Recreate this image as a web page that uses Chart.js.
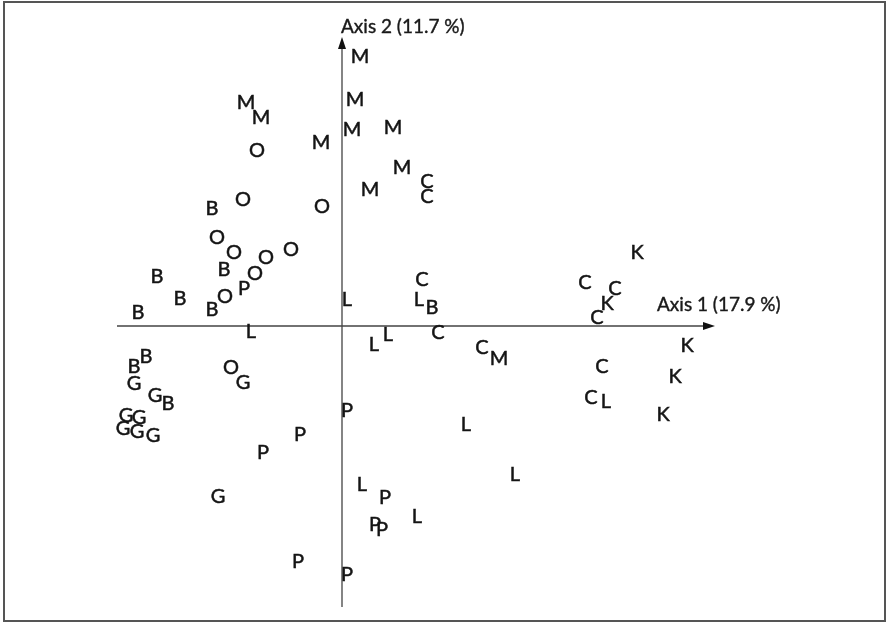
<!DOCTYPE html>
<html>
<head>
<meta charset="utf-8">
<script src="https://cdn.jsdelivr.net/npm/chart.js@4"></script>
<style>
  html, body { margin: 0; padding: 0; background: #fff; }
  #wrap { width: 888px; height: 623px; position: relative; }
</style>
</head>
<body>
<div id="wrap"><canvas id="chart"></canvas></div>
<script>
// group letters used as point markers
const categories = ['B', 'C', 'G', 'K', 'L', 'M', 'O', 'P'];

// [axis1, axis2] scores for each group
const pointsB = [[-1.30, 1.17], [-1.85, 0.49], [-1.18, 0.56], [-1.62, 0.27], [-1.30, 0.16], [-2.04, 0.13], [-1.96, -0.31], [-2.08, -0.41], [-1.74, -0.78], [0.90, 0.18]];
const pointsC = [[0.85, 1.44], [0.85, 1.29], [0.80, 0.46], [0.96, -0.07], [1.40, -0.22], [2.43, 0.43], [2.73, 0.37], [2.55, 0.08], [2.60, -0.41], [2.49, -0.72]];
const pointsG = [[-2.08, -0.58], [-0.99, -0.57], [-1.87, -0.70], [-2.16, -0.90], [-2.03, -0.92], [-2.19, -1.03], [-2.05, -1.06], [-1.89, -1.10], [-1.24, -1.71]];
const pointsK = [[2.95, 0.73], [2.65, 0.22], [3.45, -0.20], [3.33, -0.51], [3.21, -0.89]];
const pointsL = [[-0.91, -0.06], [0.05, 0.26], [0.46, -0.09], [0.32, -0.19], [0.77, 0.26], [2.64, -0.76], [1.24, -0.99], [1.73, -1.49], [0.20, -1.59], [0.75, -1.91]];
const pointsM = [[0.18, 2.69], [-0.96, 2.23], [-0.81, 2.08], [-0.21, 1.83], [0.13, 2.26], [0.10, 1.96], [0.51, 1.98], [0.60, 1.58], [0.28, 1.36], [1.57, -0.33]];
const pointsO = [[-0.85, 1.75], [-0.99, 1.26], [-0.20, 1.19], [-1.25, 0.88], [-1.08, 0.73], [-0.76, 0.68], [-0.51, 0.76], [-0.87, 0.52], [-1.17, 0.29], [-1.11, -0.42]];
const pointsP = [[-0.98, 0.37], [0.05, -0.85], [-0.42, -1.09], [-0.79, -1.27], [0.43, -1.72], [0.33, -1.99], [0.40, -2.04], [-0.44, -2.36], [0.05, -2.49]];

const groupPoints = [pointsB, pointsC, pointsG, pointsK, pointsL, pointsM, pointsO, pointsP];

// axis titles and extents
const axis1Label = 'Axis 1 (17.9 %)';
const axis2Label = 'Axis 2 (11.7 %)';
const axis1Range = [-2.25, 3.73];
const axis2Range = [-2.81, 2.89];

const datasets = categories.map((cat, i) => ({
  label: cat,
  data: groupPoints[i].map(p => ({ x: p[0], y: p[1] })),
  pointRadius: 0,
  pointHoverRadius: 0
}));

// border, axes with arrows and their titles
const axesPlugin = {
  id: 'axesPlugin',
  beforeDatasetsDraw(chart) {
    const ctx = chart.ctx;
    const xs = chart.scales.x, ys = chart.scales.y;
    ctx.save();
    ctx.strokeStyle = '#555';
    ctx.lineWidth = 2;
    ctx.strokeRect(4, 2, 881, 619);

    const x0 = xs.getPixelForValue(0), y0 = ys.getPixelForValue(0);
    const xl = xs.getPixelForValue(axis1Range[0]), xr = xs.getPixelForValue(axis1Range[1]);
    const yb = ys.getPixelForValue(axis2Range[0]), yt = ys.getPixelForValue(axis2Range[1]);
    ctx.strokeStyle = '#444';
    ctx.lineWidth = 1.3;
    ctx.beginPath();
    ctx.moveTo(xl, y0); ctx.lineTo(xr - 8, y0);
    ctx.moveTo(x0, yb); ctx.lineTo(x0, yt + 8);
    ctx.stroke();

    ctx.fillStyle = '#111';
    ctx.beginPath();
    ctx.moveTo(xr, y0); ctx.lineTo(xr - 12, y0 - 4); ctx.lineTo(xr - 12, y0 + 4); ctx.closePath();
    ctx.fill();
    ctx.beginPath();
    ctx.moveTo(x0, yt); ctx.lineTo(x0 - 4, yt + 12); ctx.lineTo(x0 + 4, yt + 12); ctx.closePath();
    ctx.fill();

    ctx.font = '19px Lato';
    ctx.fillStyle = '#1a1a1a';
    ctx.strokeStyle = '#1a1a1a';
    ctx.lineWidth = 0.4;
    ctx.textBaseline = 'middle';
    ctx.textAlign = 'left';
    const t1x = xs.getPixelForValue(3.15), t1y = ys.getPixelForValue(0.21);
    const t2x = xs.getPixelForValue(-0.01), t2y = ys.getPixelForValue(2.99);
    ctx.fillText(axis1Label, t1x, t1y); ctx.strokeText(axis1Label, t1x, t1y);
    ctx.fillText(axis2Label, t2x, t2y); ctx.strokeText(axis2Label, t2x, t2y);
    ctx.restore();
  },
  afterDatasetsDraw(chart) {
    const ctx = chart.ctx;
    ctx.save();
    ctx.font = '20px Lato';
    ctx.fillStyle = '#141414';
    ctx.strokeStyle = '#141414';
    ctx.lineWidth = 0.5;
    ctx.textAlign = 'center';
    ctx.textBaseline = 'middle';
    chart.data.datasets.forEach((ds, i) => {
      chart.getDatasetMeta(i).data.forEach(el => {
        ctx.fillText(ds.label, el.x, el.y);
        ctx.strokeText(ds.label, el.x, el.y);
      });
    });
    ctx.restore();
  }
};

new Chart(document.getElementById('chart'), {
  type: 'scatter',
  data: { datasets: datasets },
  options: {
    responsive: true,
    maintainAspectRatio: false,
    animation: false,
    events: [],
    layout: { padding: 0 },
    plugins: { legend: { display: false }, tooltip: { enabled: false } },
    scales: {
      x: { type: 'linear', min: -3.42, max: 5.46, display: false },
      y: { type: 'linear', min: -2.97, max: 3.26, display: false }
    }
  },
  plugins: [axesPlugin]
});
</script>
</body>
</html>
